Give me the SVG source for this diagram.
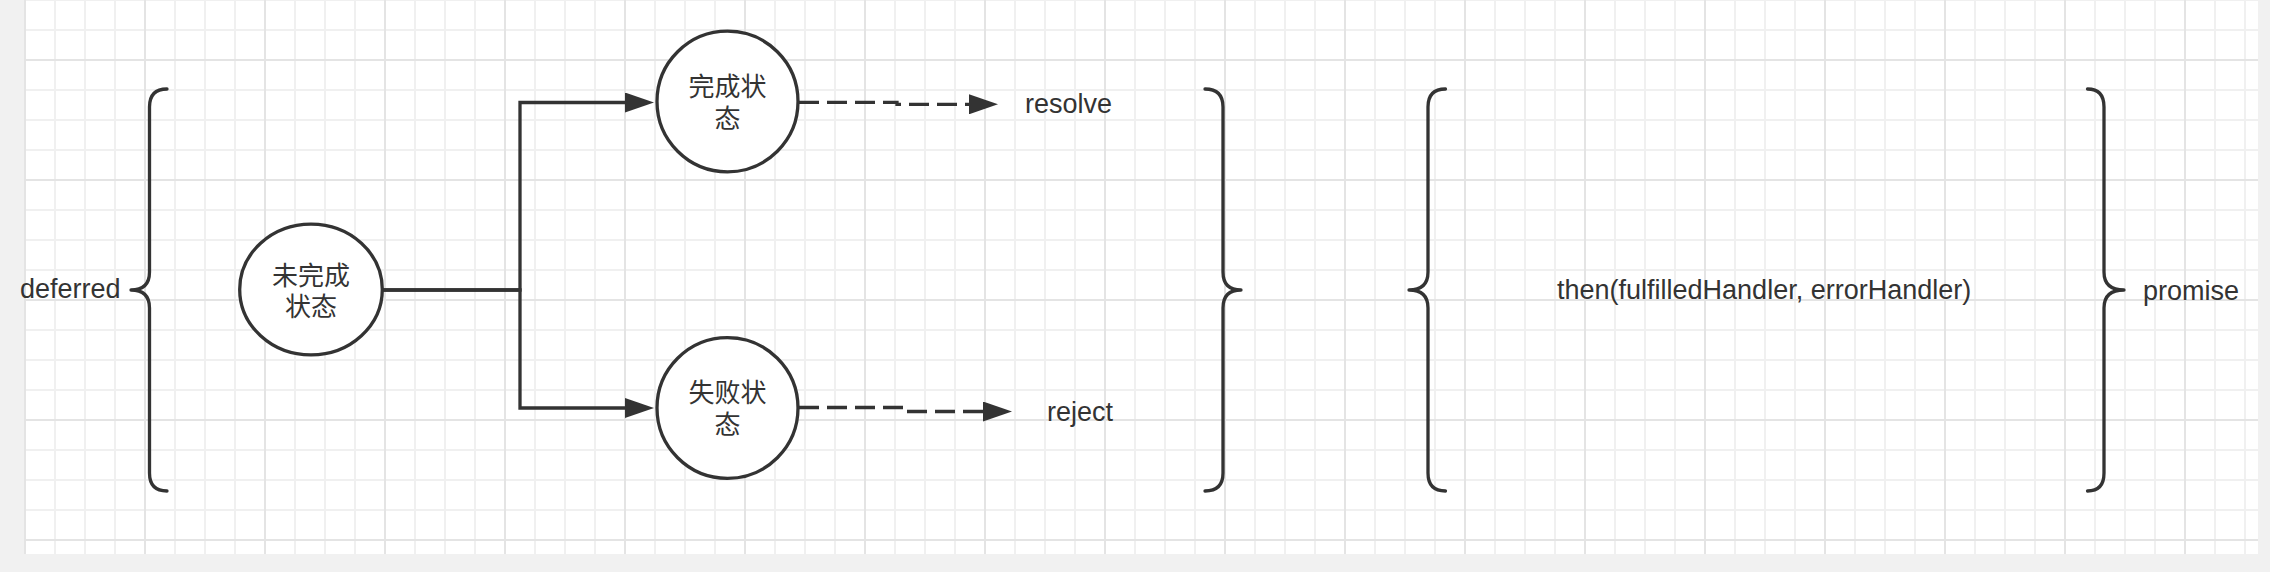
<svg xmlns="http://www.w3.org/2000/svg" width="2270" height="572" viewBox="0 0 2270 572">
  <style>
    .ln { fill: none; stroke: #333333; stroke-width: 3.3; stroke-linejoin: miter; }
    .dash { stroke-dasharray: 20 8; }
    .node { fill: #ffffff; stroke: #333333; stroke-width: 3.3; }
    .brace { fill: none; stroke: #333333; stroke-width: 3.3; stroke-linecap: round; stroke-linejoin: round; }
    .lbl { font-family: "Liberation Sans", Arial, sans-serif; font-size: 27px; fill: #333333; }
    .cjk { font-family: "Liberation Sans", "Noto Sans CJK SC", sans-serif; font-size: 26px; fill: #333333; text-anchor: middle; }
  </style>
  <defs>
    <pattern id="grid" x="24" y="59" width="120" height="120" patternUnits="userSpaceOnUse">
      <rect x="0" y="0" width="120" height="120" fill="#ffffff"/>
      <rect x="30" y="0" width="2" height="120" fill="#f0f0f0"/>
      <rect x="60" y="0" width="2" height="120" fill="#f0f0f0"/>
      <rect x="90" y="0" width="2" height="120" fill="#f0f0f0"/>
      <rect x="0" y="30" width="120" height="2" fill="#f0f0f0"/>
      <rect x="0" y="60" width="120" height="2" fill="#f0f0f0"/>
      <rect x="0" y="90" width="120" height="2" fill="#f0f0f0"/>
      <rect x="0" y="0" width="2" height="120" fill="#e4e4e4"/>
      <rect x="0" y="0" width="120" height="2" fill="#e4e4e4"/>
    </pattern>
    <marker id="arrow" markerUnits="userSpaceOnUse" viewBox="0 0 29 20" markerWidth="29" markerHeight="20" refX="0" refY="10" orient="auto">
      <path d="M0 0 L29 10 L0 20 Z" fill="#333333"/>
    </marker>
  </defs>

  <rect x="0" y="0" width="2270" height="572" fill="#f1f1f1"/>
  <rect x="24" y="0" width="2234" height="554" fill="url(#grid)"/>

  <g id="connectors">
    <path class="ln" d="M383 290 H520 V102.5 H625" marker-end="url(#arrow)"/>
    <path class="ln" d="M383 290 H520 V408 H625" marker-end="url(#arrow)"/>
    <path class="ln dash" d="M799 102.3 H897 V104.3 H969" marker-end="url(#arrow)"/>
    <path class="ln dash" d="M799 407.5 H907 V411.5 H983" marker-end="url(#arrow)"/>
  </g>

  <g id="deferred-brace">
    <path class="brace" d="M167 89 Q149.5 89 149.5 107 V272 Q149.5 290 131 290 Q149.5 290 149.5 308 V473 Q149.5 491 167 491"/>
    <text class="lbl" x="20" y="298">deferred</text>
  </g>

  <g id="node-pending">
    <ellipse class="node" cx="311" cy="289.5" rx="71.3" ry="65.3"/>
    <text class="cjk" x="311" y="285"><tspan x="311" y="285">未完成</tspan><tspan x="311" y="316">状态</tspan></text>
  </g>

  <g id="node-resolved">
    <ellipse class="node" cx="727.5" cy="101.5" rx="70.5" ry="70.3"/>
    <text class="cjk" x="727.5" y="96"><tspan x="727.5" y="96">完成状</tspan><tspan x="727.5" y="128">态</tspan></text>
  </g>

  <g id="node-rejected">
    <ellipse class="node" cx="727.5" cy="408" rx="70.5" ry="70.3"/>
    <text class="cjk" x="727.5" y="402"><tspan x="727.5" y="402">失败状</tspan><tspan x="727.5" y="434">态</tspan></text>
  </g>

  <g id="label-resolve">
    <text class="lbl" x="1025" y="113">resolve</text>
  </g>

  <g id="label-reject">
    <text class="lbl" x="1047" y="421">reject</text>
  </g>

  <g id="deferred-close-brace">
    <path class="brace" d="M1205 89 Q1223 89 1223 107 V272 Q1223 290 1241 290 Q1223 290 1223 308 V473 Q1223 491 1205 491"/>
  </g>

  <g id="promise-open-brace">
    <path class="brace" d="M1445.5 89 Q1428 89 1428 107 V272 Q1428 290 1409 290 Q1428 290 1428 308 V473 Q1428 491 1445.5 491"/>
  </g>

  <g id="label-then">
    <text class="lbl" x="1557" y="299">then(fulfilledHandler, errorHandler)</text>
  </g>

  <g id="promise-brace">
    <path class="brace" d="M2087.5 89 Q2104 89 2104 107 V272 Q2104 290 2124 290 Q2104 290 2104 308 V473 Q2104 491 2087.5 491"/>
    <text class="lbl" x="2143" y="300">promise</text>
  </g>
</svg>
